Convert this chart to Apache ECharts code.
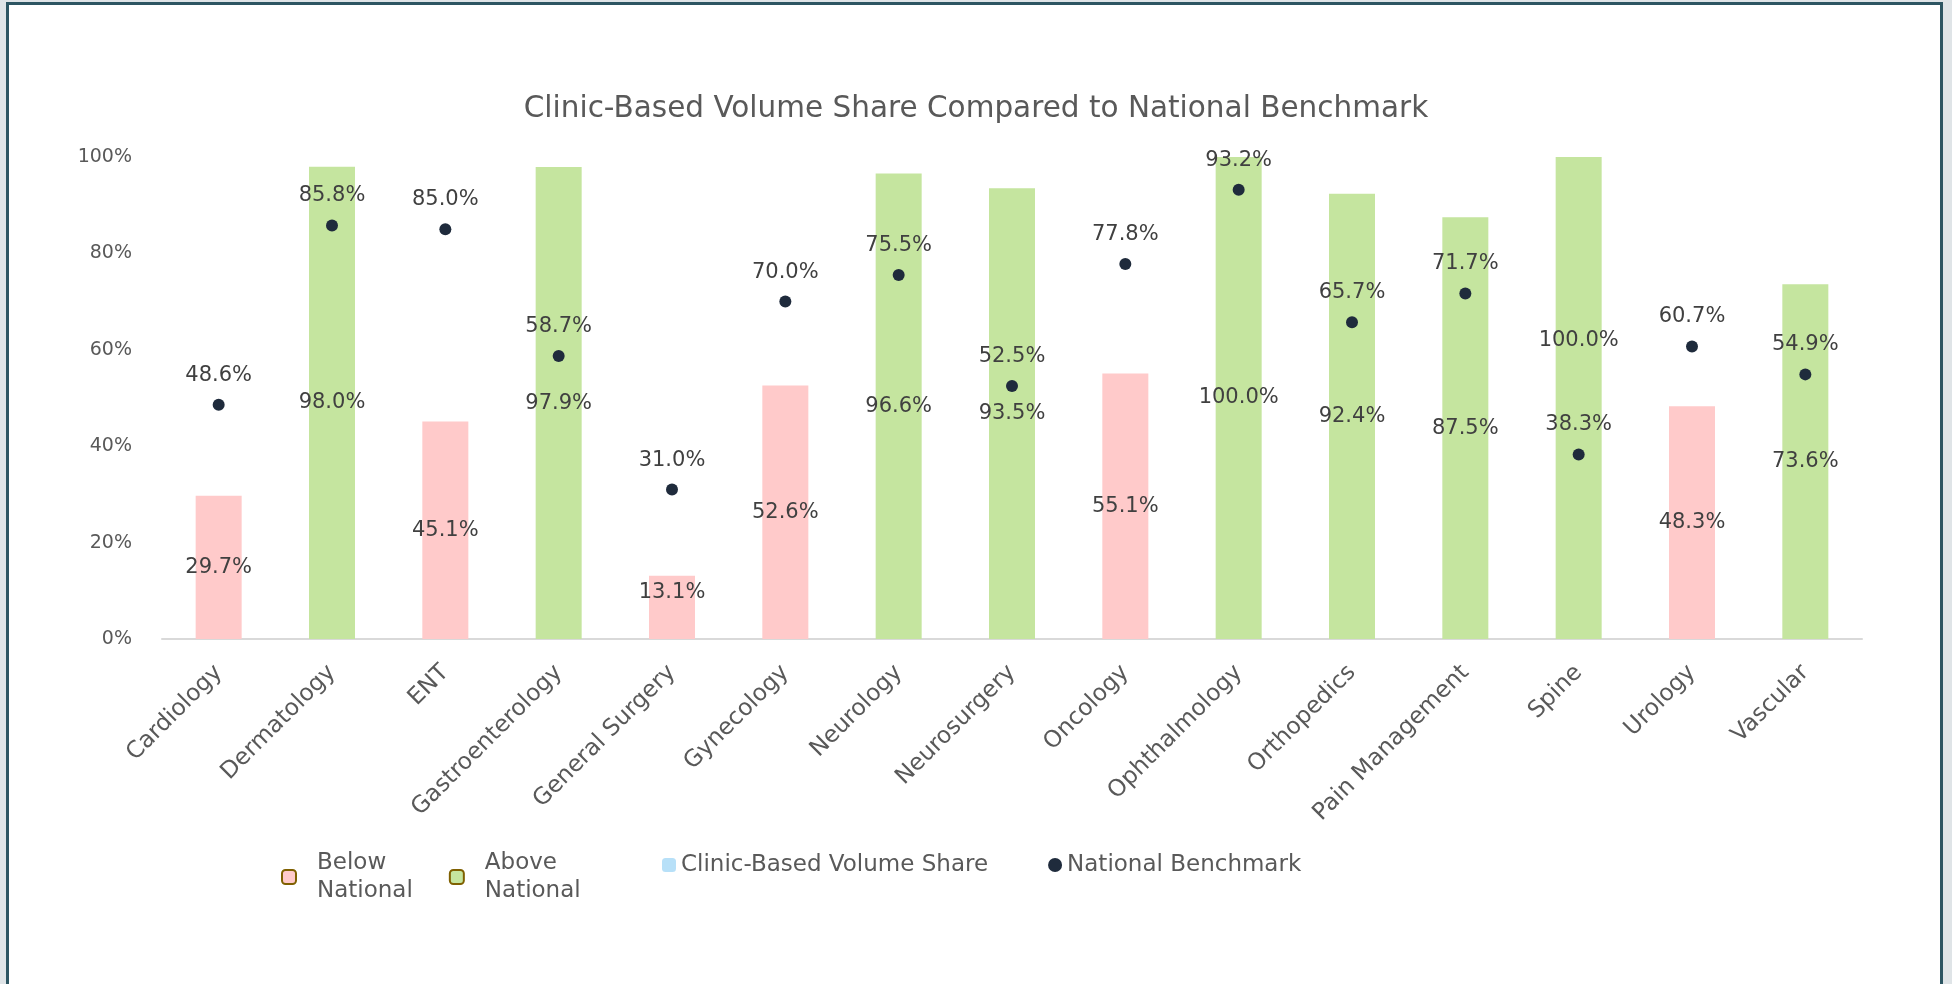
<!DOCTYPE html>
<html>
<head>
<meta charset="utf-8">
<title>Clinic-Based Volume Share Compared to National Benchmark</title>
<script src="https://cdn.jsdelivr.net/npm/echarts@6/dist/echarts.min.js"></script>
<style>
  html, body { margin: 0; padding: 0; width: 1952px; height: 984px; overflow: hidden; background: #dfe4e7; }
  #frame { position: absolute; left: 6px; top: 2px; width: 1931px; height: 1000px; border: 3px solid #2d5562; background: #fff; }
  #chart { position: absolute; left: 0; top: 0; width: 1952px; height: 984px; }
</style>
</head>
<body>
<div id="frame"></div>
<div id="chart"></div>
<script>
const categories = ['Cardiology', 'Dermatology', 'ENT', 'Gastroenterology', 'General Surgery', 'Gynecology',
  'Neurology', 'Neurosurgery', 'Oncology', 'Ophthalmology', 'Orthopedics', 'Pain Management', 'Spine', 'Urology', 'Vascular']
const clinicShare = [29.7, 98.0, 45.1, 97.9, 13.1, 52.6, 96.6, 93.5, 55.1, 100.0, 92.4, 87.5, 100.0, 48.3, 73.6]
const benchmark = [48.6, 85.8, 85.0, 58.7, 31.0, 70.0, 75.5, 52.5, 77.8, 93.2, 65.7, 71.7, 38.3, 60.7, 54.9]
const yTicks = [0, 20, 40, 60, 80, 100]

const FONT = 'DejaVu Sans'
const BELOW = '#ffcaca'
const ABOVE = '#c5e59f'
const DOT = '#1f2b3c'

// a couple of bar labels sit higher than the bar middle in the original
const labelNudge = { 'General Surgery': -15, 'Spine': -57 }

const pct = v => v.toFixed(1) + '%'

const barData = clinicShare.map((v, i) => {
  let item = {
    value: v,
    itemStyle: { color: v < benchmark[i] ? BELOW : ABOVE },
  }
  if (labelNudge[categories[i]]) {
    item.label = { offset: [0, labelNudge[categories[i]]] }
  }
  return item
})

const chart = echarts.init(document.getElementById('chart'))

chart.setOption({
  animation: false,
  backgroundColor: 'transparent',
  textStyle: { fontFamily: FONT },
  title: {
    text: 'Clinic-Based Volume Share Compared to National Benchmark',
    left: 'center',
    top: 89,
    textStyle: { fontFamily: FONT, fontSize: 29.5, fontWeight: 'normal', color: '#595959' },
  },
  legend: [
    {
      data: ['Below National', 'Above National'],
      left: 281,
      top: 849,
      padding: 0,
      itemGap: 36,
      itemWidth: 14,
      itemHeight: 14,
      formatter: name => name.replace(' ', '\n'),
      textStyle: { fontSize: 23, lineHeight: 28, color: '#595959', padding: [0, 0, 0, 16] },
    },
    {
      data: [
        { name: 'Clinic-Based Volume Share' },
        { name: 'National Benchmark', icon: 'path://M7,2.5A4.5,4.5,0,1,1,6.99,2.5Z' },
      ],
      left: 662,
      top: 851,
      padding: 0,
      itemGap: 60,
      itemWidth: 14,
      itemHeight: 14,
      textStyle: { fontSize: 23, lineHeight: 28, color: '#595959' },
    },
  ],
  grid: { left: 162, right: 90, top: 157, bottom: 345, containLabel: false },
  xAxis: {
    type: 'category',
    data: categories,
    axisLine: { lineStyle: { color: '#d9d9d9', width: 2 } },
    axisTick: { show: false },
    axisLabel: { rotate: 45, margin: 30, fontSize: 23.3, color: '#595959', interval: 0 },
  },
  yAxis: {
    type: 'value',
    min: yTicks[0],
    max: yTicks[yTicks.length - 1],
    interval: yTicks[1] - yTicks[0],
    axisLine: { show: false },
    axisTick: { show: false },
    splitLine: { show: false },
    axisLabel: { formatter: '{value}%', margin: 30, fontSize: 19, color: '#595959' },
  },
  series: [
    {
      name: 'Clinic-Based Volume Share',
      type: 'bar',
      stack: 'share',
      barWidth: 46,
      itemStyle: { color: '#b7e0f8' },
      label: {
        show: true,
        position: 'inside',
        formatter: p => pct(p.value),
        fontSize: 21,
        color: '#404040',
      },
      data: barData,
    },
    {
      name: 'Below National',
      type: 'bar',
      stack: 'share',
      itemStyle: { color: BELOW, borderColor: '#7f6000', borderWidth: 2 },
      data: [],
    },
    {
      name: 'Above National',
      type: 'bar',
      stack: 'share',
      itemStyle: { color: ABOVE, borderColor: '#7f6000', borderWidth: 2 },
      data: [],
    },
    {
      name: 'National Benchmark',
      type: 'scatter',
      symbol: 'circle',
      symbolSize: 12,
      z: 5,
      itemStyle: { color: DOT, opacity: 1 },
      label: {
        show: true,
        position: 'top',
        distance: 13,
        formatter: p => pct(p.value),
        fontSize: 21,
        color: '#404040',
      },
      data: benchmark,
    },
  ],
})
</script>
</body>
</html>
